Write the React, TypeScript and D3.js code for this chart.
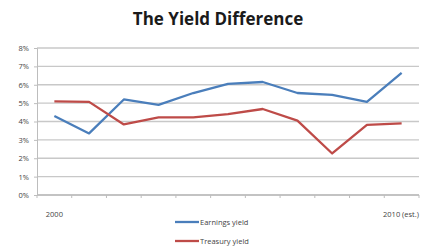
import { useEffect, useRef } from "react";
import * as d3 from "d3";

const years = ["2000", "2001", "2002", "2003", "2004", "2005", "2006", "2007", "2008", "2009", "2010 (est.)"];
const earningsYield = [4.3, 3.35, 5.2, 4.9, 5.55, 6.05, 6.15, 5.55, 5.45, 5.07, 6.65];
const treasuryYield = [5.1, 5.07, 3.84, 4.22, 4.22, 4.4, 4.68, 4.05, 2.26, 3.82, 3.9];
const yTicks = [0, 1, 2, 3, 4, 5, 6, 7, 8];
const shownLabels = ["2000", "2010 (est.)"];

const series = [
  { name: "Earnings yield", values: earningsYield, color: "#4a7ebb" },
  { name: "Treasury yield", values: treasuryYield, color: "#be4b48" },
];

export default function App() {
  const svgRef = useRef<SVGSVGElement | null>(null);

  useEffect(() => {
    if (!svgRef.current) return;
    const width = 425;
    const height = 250;
    const margin = { top: 48, right: 6, bottom: 55, left: 37 };
    const font = "Open Sans, Liberation Sans, sans-serif";

    const svg = d3.select(svgRef.current);
    svg.selectAll("*").remove();

    const x = d3
      .scaleBand()
      .domain(years)
      .range([margin.left, width - margin.right]);

    const y = d3
      .scaleLinear()
      .domain([0, 8])
      .range([height - margin.bottom, margin.top]);

    // gridlines
    svg
      .append("g")
      .selectAll("line")
      .data(yTicks)
      .join("line")
      .attr("x1", margin.left)
      .attr("x2", width - margin.right)
      .attr("y1", (d) => y(d))
      .attr("y2", (d) => y(d))
      .attr("stroke", "#c8c8c8")
      .attr("stroke-width", 1.3);

    // y axis
    const yAxis = svg
      .append("g")
      .attr("transform", `translate(${margin.left},0)`)
      .call(
        d3
          .axisLeft(y)
          .tickValues(yTicks)
          .tickSize(3)
          .tickFormat((d) => `${d}%`)
      );
    yAxis.select(".domain").attr("stroke", "#bdbdbd");
    yAxis.selectAll("line").attr("stroke", "#bdbdbd");
    yAxis
      .selectAll("text")
      .attr("font-family", font)
      .attr("font-size", 7.5)
      .attr("fill", "#444")
      .attr("x", -8);

    // x axis
    const xAxis = svg
      .append("g")
      .attr("transform", `translate(0,${height - margin.bottom})`);
    xAxis
      .append("line")
      .attr("x1", margin.left)
      .attr("x2", width - margin.right)
      .attr("stroke", "#bdbdbd")
      .attr("stroke-width", 1.3);
    const bounds = years.map((d) => x(d) as number).concat([width - margin.right]);
    xAxis
      .selectAll(".tk")
      .data(bounds)
      .join("line")
      .attr("class", "tk")
      .attr("x1", (d) => d)
      .attr("x2", (d) => d)
      .attr("y1", 0)
      .attr("y2", 3)
      .attr("stroke", "#bdbdbd");
    xAxis
      .selectAll("text")
      .data(shownLabels)
      .join("text")
      .attr("x", (d) => (d === "2000" ? (x(d) as number) + x.bandwidth() / 2 : width - 24))
      .attr("y", 22)
      .attr("text-anchor", "middle")
      .attr("font-family", font)
      .attr("font-size", 7.5)
      .attr("fill", "#444")
      .text((d) => d);

    // lines
    const line = d3
      .line<number>()
      .x((_, i) => (x(years[i]) as number) + x.bandwidth() / 2)
      .y((d) => y(d));

    series.forEach((s) => {
      svg
        .append("path")
        .datum(s.values)
        .attr("fill", "none")
        .attr("stroke", s.color)
        .attr("stroke-width", 2.3)
        .attr("stroke-linejoin", "round")
        .attr("d", line);
    });

    // title
    svg
      .append("text")
      .attr("x", 218)
      .attr("y", 25)
      .attr("text-anchor", "middle")
      .attr("font-family", font)
      .attr("font-weight", "bold")
      .attr("font-size", 17)
      .attr("fill", "#1a1a1a")
      .text("The Yield Difference");

    // legend
    const legend = svg.append("g").attr("transform", "translate(175,222)");
    series.forEach((s, i) => {
      const row = legend.append("g").attr("transform", `translate(0,${i * 19})`);
      row
        .append("line")
        .attr("x1", 0)
        .attr("x2", 24)
        .attr("stroke", s.color)
        .attr("stroke-width", 2.3);
      row
        .append("text")
        .attr("x", 25)
        .attr("y", 3)
        .attr("font-family", font)
        .attr("font-size", 7.5)
        .attr("fill", "#444")
        .text(s.name);
    });
  }, []);

  return (
    <svg
      ref={svgRef}
      width={425}
      height={250}
      style={{ position: "absolute", left: 0, top: 0, background: "#fff" }}
    ></svg>
  );
}
